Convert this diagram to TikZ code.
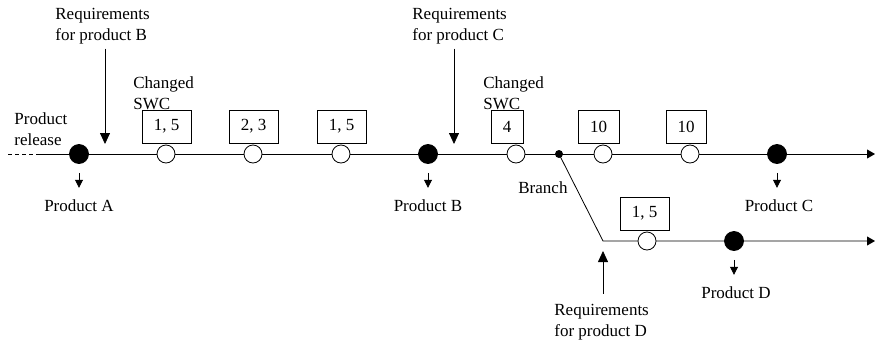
\documentclass[tikz,border=0pt]{standalone}
\usepackage{fontspec}
\setmainfont{Liberation Serif}
\usetikzlibrary{arrows.meta}
\begin{document}
\begin{tikzpicture}[x=1pt,y=-1pt,line width=0.8pt,
  txt/.style={inner sep=0pt,font=\fontsize{17}{21}\selectfont,align=left},
  rel/.style={circle,draw,fill=black,minimum size=19pt,inner sep=0pt},
  chg/.style={circle,draw,fill=white,minimum size=18pt,inner sep=0pt},
  brpt/.style={circle,fill=black,minimum size=8pt,inner sep=0pt},
  swc/.style={draw,minimum height=33pt,inner sep=0pt,font=\fontsize{17}{21}\selectfont},
  tl/.style={-{Triangle[length=8pt,width=9pt]}},
  sarr/.style={-{Triangle[length=8pt,width=8pt]}},
  barr/.style={-{Triangle[length=11pt,width=10pt]}}]
\useasboundingbox (0,0) rectangle (875,343);
% timeline
\coordinate (s0) at (8,154);
\coordinate (s1) at (40,154);
\coordinate (e1) at (875,154);
\coordinate (bk) at (603,241);
\coordinate (e2) at (875,241);
\draw[dash pattern=on 4pt off 3pt] (s0) -- (s1);
\draw[tl] (s1) -- (e1);
\node[brpt] (br) at (559,154) {};
\draw[tl] (br.center) -- (bk) -- (e2);
% changed SWC boxes
\node[swc,minimum width=49pt] (k1) at (166.5,126.5) {1, 5};
\node[swc,minimum width=49pt] (k2) at (253.5,126.5) {2, 3};
\node[swc,minimum width=49pt] (k3) at (341.5,126.5) {1, 5};
\node[swc,minimum width=32pt] (k4) at (507,126.5) {4};
\node[swc,minimum width=41pt] (k5) at (598.5,126.5) {10};
\node[swc,minimum width=40pt] (k6) at (686,126.5) {10};
\node[swc,minimum width=49pt] (k7) at (644.5,213.5) {1, 5};
% events
\node[rel] (A) at (79,154) {};
\node[chg] (c1) at (166,154) {};
\node[chg] (c2) at (253,154) {};
\node[chg] (c3) at (341,154) {};
\node[rel] (B) at (428,154) {};
\node[chg] (c4) at (516,154) {};
\node[chg] (c5) at (603,154) {};
\node[chg] (c6) at (690,154) {};
\node[rel] (C) at (777,154) {};
\node[chg] (c7) at (647,241) {};
\node[rel] (D) at (734,241) {};
% texts
\node[txt,anchor=north west] (rel) at (14,112.5) {Product\\release};
\node[txt,anchor=north west] (rB) at (55,8) {Requirements\\for product B};
\node[txt,anchor=north west] (rC) at (412,8) {Requirements\\for product C};
\node[txt,anchor=north west] (rD) at (554,303.75) {Requirements\\for product D};
\node[txt,anchor=north west] (sw1) at (133,76.5) {Changed\\SWC};
\node[txt,anchor=north west] (sw2) at (483,76.5) {Changed\\SWC};
\node[txt,anchor=base west] (brl) at (518,193) {Branch};
\node[txt,anchor=base] (pA) at (79,211) {Product A};
\node[txt,anchor=base] (pB) at (428,211) {Product B};
\node[txt,anchor=base] (pC) at (779,211) {Product C};
\node[txt,anchor=base] (pD) at (736,298) {Product D};
% product arrows
\draw[sarr] ([yshift=-9pt]A.south) -- ([yshift=11pt]pA.north -| A);
\draw[sarr] ([yshift=-9pt]B.south) -- ([yshift=11pt]pB.north -| B);
\draw[sarr] ([yshift=-9pt]C.south) -- ([yshift=11pt]pC.north -| C);
\draw[sarr] ([yshift=-9pt]D.south) -- ([yshift=11pt]pD.north -| D);
% requirement arrows
\coordinate (tB) at (105,144);
\coordinate (tC) at (454,144);
\coordinate (tD) at (603,251);
\draw[barr] (tB |- rB.south) ++(0,4) -- (tB);
\draw[barr] (tC |- rC.south) ++(0,4) -- (tC);
\draw[barr] (tD |- rD.north) ++(0,-10) -- (tD);
\end{tikzpicture}
\end{document}
